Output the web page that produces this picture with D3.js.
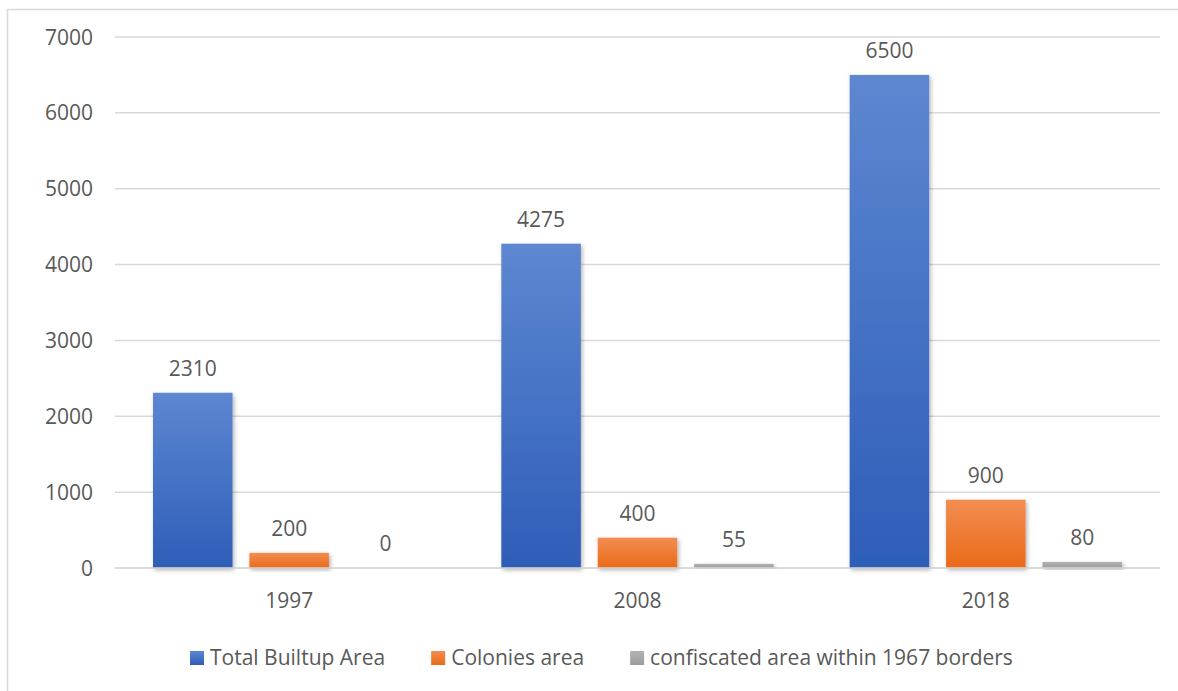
<!DOCTYPE html>
<html>
<head>
<meta charset="utf-8">
<script src="https://cdn.jsdelivr.net/npm/d3@7.9.0/dist/d3.min.js"></script>
<style>
  body { margin: 0; background: #fff; }
  svg text { font-family: "Open Sans", sans-serif; fill: #595959; }
</style>
</head>
<body>
<div id="chart"></div>
<script>
// data
const years = ["1997", "2008", "2018"];
const seriesNames = ["Total Builtup Area", "Colonies area", "confiscated area within 1967 borders"];
const totalBuiltup = [2310, 4275, 6500];
const coloniesArea = [200, 400, 900];
const confiscatedArea = [0, 55, 80];
const yTicks = [0, 1000, 2000, 3000, 4000, 5000, 6000, 7000];

const seriesValues = [totalBuiltup, coloniesArea, confiscatedArea];

// gradient colours (top, bottom) per series
const grads = [
  ["#5d87d1", "#2e5db8"],
  ["#f28d52", "#ea6a18"],
  ["#b3b3b3", "#9c9c9c"]
];

const W = 1178, H = 691;
const plot = { left: 115, right: 1160, top: 37, bottom: 568 };
const FS = 21;

const svg = d3.select("#chart").append("svg")
  .attr("width", W)
  .attr("height", H);

// outer chart border
svg.append("rect")
  .attr("x", 7.5).attr("y", 9.5)
  .attr("width", 1200).attr("height", 700)
  .attr("fill", "none")
  .attr("stroke", "#d9d9d9")
  .attr("stroke-width", 1.5);

const defs = svg.append("defs");
grads.forEach((g, i) => {
  const lg = defs.append("linearGradient")
    .attr("id", "grad" + i)
    .attr("x1", 0).attr("y1", 0).attr("x2", 0).attr("y2", 1);
  lg.append("stop").attr("offset", "0%").attr("stop-color", g[0]);
  lg.append("stop").attr("offset", "100%").attr("stop-color", g[1]);
});

const shadow = defs.append("filter")
  .attr("id", "shadow")
  .attr("x", "-20%").attr("y", "-20%")
  .attr("width", "140%").attr("height", "140%");
shadow.append("feDropShadow")
  .attr("dx", 1.5).attr("dy", 2)
  .attr("stdDeviation", 2.2)
  .attr("flood-color", "#000")
  .attr("flood-opacity", 0.3);

const y = d3.scaleLinear()
  .domain([0, 7000])
  .range([plot.bottom, plot.top]);

const x0 = d3.scaleBand()
  .domain(years)
  .range([plot.left, plot.right]);

const x1 = d3.scaleBand()
  .domain(d3.range(seriesNames.length))
  .range([38, x0.bandwidth() - 38])
  .paddingInner(0.175);

// gridlines + y labels
const yAxis = svg.append("g");
yTicks.forEach(t => {
  yAxis.append("line")
    .attr("x1", plot.left).attr("x2", plot.right)
    .attr("y1", y(t)).attr("y2", y(t))
    .attr("stroke", "#d9d9d9")
    .attr("stroke-width", 1.5);
  yAxis.append("text")
    .attr("x", 93)
    .attr("y", y(t))
    .attr("dy", "0.36em")
    .attr("text-anchor", "end")
    .attr("font-size", FS)
    .text(t);
});

// bars
const groups = svg.append("g").selectAll("g")
  .data(years)
  .join("g")
  .attr("transform", d => `translate(${x0(d)},0)`);

groups.selectAll("rect")
  .data((d, i) => seriesValues.map((vals, s) => ({ s, v: vals[i] })))
  .join("rect")
  .attr("x", d => x1(d.s))
  .attr("width", x1.bandwidth())
  .attr("y", d => y(d.v))
  .attr("height", d => y(0) - y(d.v))
  .attr("fill", d => `url(#grad${d.s})`)
  .attr("filter", "url(#shadow)");

// value labels
groups.selectAll("text.val")
  .data((d, i) => seriesValues.map((vals, s) => ({ s, v: vals[i] })))
  .join("text")
  .attr("class", "val")
  .attr("x", d => x1(d.s) + x1.bandwidth() / 2)
  .attr("y", d => y(d.v) - 17)
  .attr("text-anchor", "middle")
  .attr("font-size", FS)
  .text(d => d.v);

// baseline over the bars
svg.append("line")
  .attr("x1", plot.left).attr("x2", plot.right)
  .attr("y1", y(0)).attr("y2", y(0))
  .attr("stroke", "#d9d9d9")
  .attr("stroke-width", 1.5);

// x labels
svg.append("g").selectAll("text")
  .data(years)
  .join("text")
  .attr("x", d => x0(d) + x0.bandwidth() / 2)
  .attr("y", 608)
  .attr("text-anchor", "middle")
  .attr("font-size", FS)
  .text(d => d);

// legend
const legend = svg.append("g");
let lx = 190;
seriesNames.forEach((name, i) => {
  legend.append("rect")
    .attr("x", lx).attr("y", 651)
    .attr("width", 14).attr("height", 14)
    .attr("fill", `url(#grad${i})`);
  const t = legend.append("text")
    .attr("x", lx + 20)
    .attr("y", 665)
    .attr("font-size", FS)
    .text(name);
  lx += 20 + t.node().getComputedTextLength() + 46;
});
</script>
</body>
</html>
